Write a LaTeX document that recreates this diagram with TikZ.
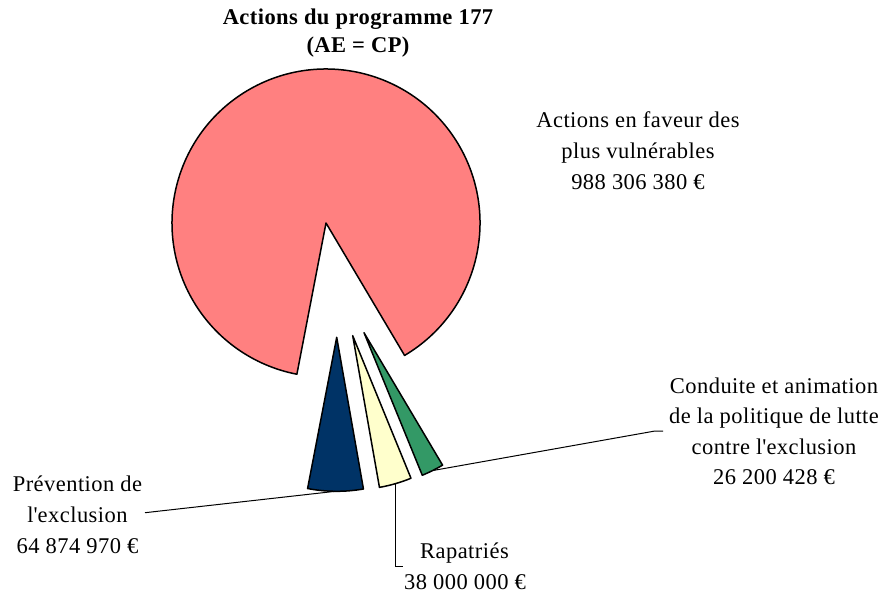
\documentclass[tikz,border=0pt]{standalone}
\usepackage{fontspec}
\setmainfont{Liberation Serif}[LetterSpace=2]
\usetikzlibrary{calc}
\definecolor{bigc}{HTML}{FF8080}
\definecolor{navyc}{HTML}{003366}
\definecolor{yelc}{HTML}{FFFFCC}
\definecolor{grnc}{HTML}{339966}
\begin{document}
\begin{tikzpicture}[x=0.5pt,y=0.5pt,
  lbl/.style={anchor=base,inner sep=0pt,font=\fontsize{11.25}{13}\selectfont},
  ttl/.style={anchor=base,inner sep=0pt,font=\fontsize{11.25}{13}\selectfont\bfseries},
  slice/.style={draw=black,line width=0.75pt,line join=round},
  leader/.style={draw=black,line width=0.5pt}]
\useasboundingbox (0,0) rectangle (886,595);
% slice tips
\coordinate (bigtip) at (326,372);
\coordinate (navytip) at (336.7,257.7);
\coordinate (yeltip) at (352.7,259.3);
\coordinate (grntip) at (364,262.3);
% slices
\filldraw[slice,fill=bigc] (bigtip) -- ++(300.68:154) arc[start angle=300.68,end angle=619.1,radius=154] -- cycle;
\filldraw[slice,fill=navyc] (navytip) -- ++(259.1:154) arc[start angle=259.1,end angle=280.0,radius=154] -- cycle;
\filldraw[slice,fill=yelc] (yeltip) -- ++(280.0:154) arc[start angle=280.0,end angle=292.24,radius=154] -- cycle;
\filldraw[slice,fill=grnc] (grntip) -- ++(292.24:154) arc[start angle=292.24,end angle=300.68,radius=154] -- cycle;
% leader anchor points
\coordinate (navyarc) at ($(navytip)+(269.55:154)$);
\coordinate (yelarc) at ($(yeltip)+(286.12:154)$);
\coordinate (grnarc) at ($(grntip)+(296.46:154)$);
\coordinate (prevend) at (145,82.3);
\coordinate (rapbend) at (yelarc |- 0,29);
\coordinate (rapend) at (403.3,29);
\coordinate (condbend) at (655,164);
\coordinate (condend) at (663,164);
% title
\node[ttl] (t1) at (358,570) {Actions du programme 177};
\node[ttl] (t2) at (358,542) {(AE = CP)};
% labels
\node[lbl] (big1) at (638,467) {Actions en faveur des};
\node[lbl] (big2) at (638,436.5) {plus vulnérables};
\node[lbl] (big3) at (638,406) {988 306 380 €};
\node[lbl] (cond1) at (774,201.7) {Conduite et animation};
\node[lbl] (cond2) at (774,171.2) {de la politique de lutte};
\node[lbl] (cond3) at (774,140.7) {contre l\textquotesingle exclusion};
\node[lbl] (cond4) at (774,110.2) {26 200 428 €};
\node[lbl] (prev1) at (77.5,103.3) {Prévention de};
\node[lbl] (prev2) at (77.5,72.5) {l\textquotesingle exclusion};
\node[lbl] (prev3) at (77.5,41.7) {64 874 970 €};
\node[lbl] (rap1) at (464.5,36.7) {Rapatriés};
\node[lbl] (rap2) at (465,5.7) {38 000 000 €};
% leaders
\draw[leader] (navyarc) -- (prevend);
\draw[leader] (yelarc) -- (rapbend) -- (rapend);
\draw[leader] (grnarc) -- (condbend) -- (condend);
\end{tikzpicture}
\end{document}
